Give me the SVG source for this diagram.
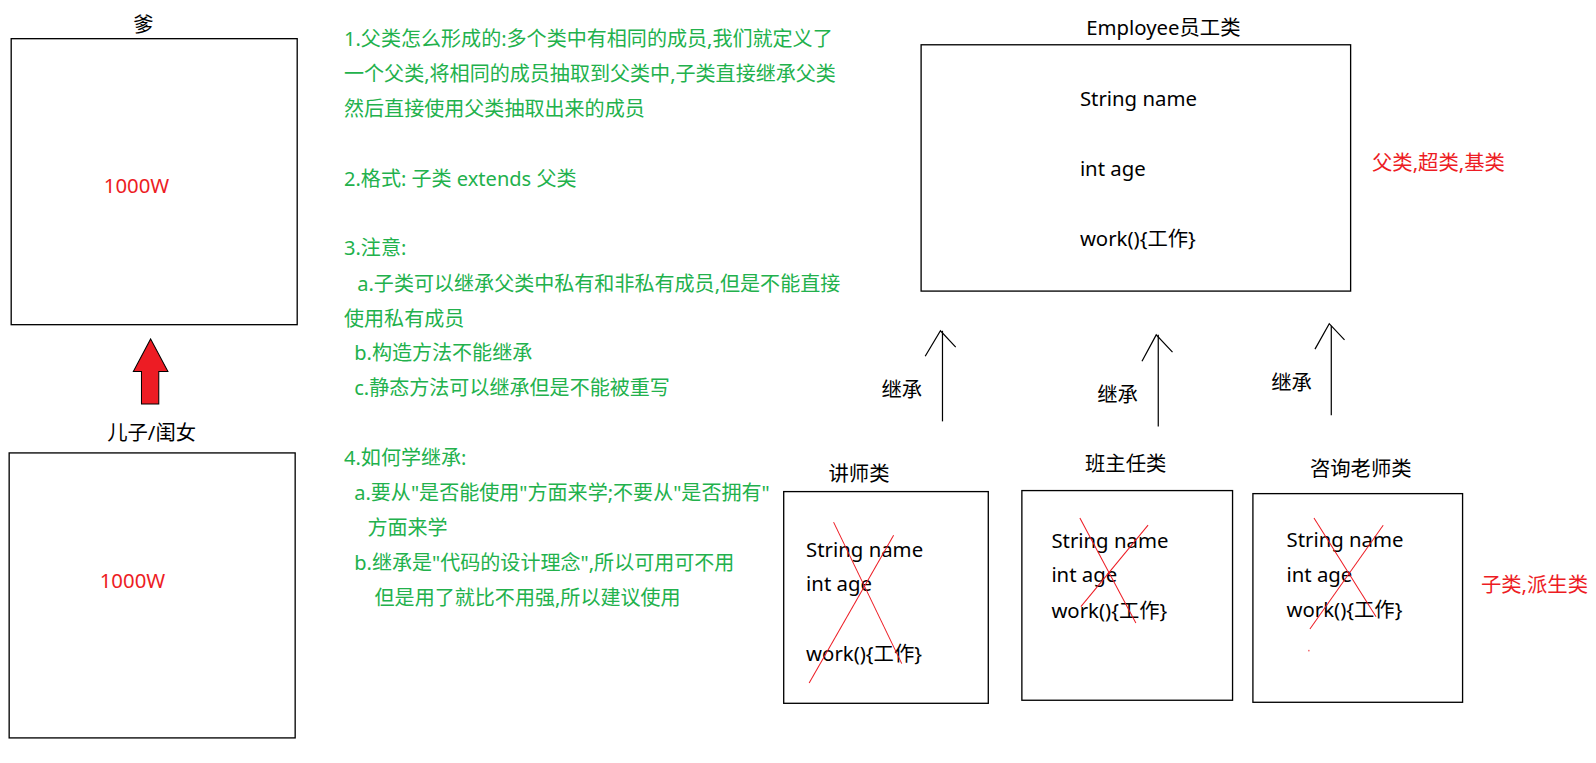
<svg xmlns="http://www.w3.org/2000/svg" width="1596" height="763" viewBox="0 0 1596 763">
<style>
text{font-family:"Noto Sans","Noto Sans CJK SC",sans-serif;font-size:20px;fill:#000}
.g{fill:#22b14c;font-size:19.7px}
.r{fill:#ed1c24}
.box{fill:none;stroke:#000;stroke-width:1.3}
.x{stroke:#ed1c24;stroke-width:1;fill:none}
.ln{stroke:#000;stroke-width:1.2;fill:none}
</style>
<rect width="1596" height="763" fill="#fff"/>
<g transform="scale(1.0178)">
<g id="dad">
<text x="141" y="31" text-anchor="middle">爹</text>
<rect class="box" x="11" y="38" width="281" height="281"/>
<text class="r" x="102" y="190">1000W</text>
</g>
<g id="child">
<text x="149" y="432" text-anchor="middle">儿子/闺女</text>
<rect class="box" x="9" y="445" width="281" height="280"/>
<text class="r" x="98" y="578">1000W</text>
</g>
<g id="notes">
<text class="g" x="338" y="45.5">1.父类怎么形成的:多个类中有相同的成员,我们就定义了</text>
<text class="g" x="338" y="80">一个父类,将相同的成员抽取到父类中,子类直接继承父类</text>
<text class="g" x="338" y="114">然后直接使用父类抽取出来的成员</text>
<text class="g" x="338" y="183">2.格式: 子类 extends 父类</text>
<text class="g" x="338" y="251">3.注意:</text>
<text class="g" x="351" y="286">a.子类可以继承父类中私有和非私有成员,但是不能直接</text>
<text class="g" x="338" y="320">使用私有成员</text>
<text class="g" x="348" y="354">b.构造方法不能继承</text>
<text class="g" x="348" y="388.5">c.静态方法可以继承但是不能被重写</text>
<text class="g" x="338" y="457">4.如何学继承:</text>
<text class="g" x="348" y="491.5">a.要从"是否能使用"方面来学;不要从"是否拥有"</text>
<text class="g" x="361" y="526">方面来学</text>
<text class="g" x="348" y="560">b.继承是"代码的设计理念",所以可用可不用</text>
<text class="g" x="368" y="594">但是用了就比不用强,所以建议使用</text>
</g>
<g id="employee">
<text x="1143" y="34" text-anchor="middle">Employee员工类</text>
<rect class="box" x="905" y="44" width="422" height="242"/>
<text x="1061" y="104">String name</text>
<text x="1061" y="173">int age</text>
<text x="1061" y="242">work(){工作}</text>
<text class="r" x="1348" y="167.5">父类,超类,基类</text>
</g>
<g id="lecturer">
<text x="814" y="472.5">讲师类</text>
<rect class="box" x="770" y="483" width="201" height="208"/>
<text x="792" y="547">String name</text>
<text x="792" y="581">int age</text>
<text x="792" y="649">work(){工作}</text>
<line class="x" x1="819" y1="513" x2="886" y2="652"/>
<line class="x" x1="878" y1="526" x2="795" y2="671"/>
</g>
<g id="headteacher">
<text x="1066" y="462.5">班主任类</text>
<rect class="box" x="1004" y="482" width="207" height="206"/>
<text x="1033" y="538">String name</text>
<text x="1033" y="572">int age</text>
<text x="1033" y="607">work(){工作}</text>
<line class="x" x1="1061" y1="509" x2="1116" y2="612"/>
<line class="x" x1="1128" y1="516" x2="1062" y2="596"/>
</g>
<g id="consultant">
<text x="1287" y="467.5">咨询老师类</text>
<rect class="box" x="1231" y="485" width="206" height="205"/>
<text x="1264" y="537">String name</text>
<text x="1264" y="572">int age</text>
<text x="1264" y="606">work(){工作}</text>
<line class="x" x1="1291" y1="509" x2="1352" y2="606"/>
<line class="x" x1="1359" y1="516" x2="1287" y2="618"/>
<rect x="1285.5" y="638.5" width="1" height="1.5" fill="#ed1c24"/>
<text class="r" x="1455" y="582">子类,派生类</text>
</g>
<g id="connectors">
<polygon points="148,333 165,365 156,365 156,397 139,397 139,365 131,365" fill="#ed1c24" stroke="#000" stroke-width="1"/>
<line class="ln" x1="926" y1="414" x2="926" y2="325"/>
<polyline class="ln" points="909,350 924,325 939,341"/>
<text x="866" y="390.5">继承</text>
<line class="ln" x1="1138" y1="419" x2="1138" y2="329"/>
<polyline class="ln" points="1122,355 1136,329 1152,346"/>
<text x="1078" y="394.5">继承</text>
<line class="ln" x1="1308" y1="408" x2="1308" y2="320"/>
<polyline class="ln" points="1292,343 1306,318 1321,334"/>
<text x="1249" y="383.5">继承</text>
</g>
</g>
</svg>
